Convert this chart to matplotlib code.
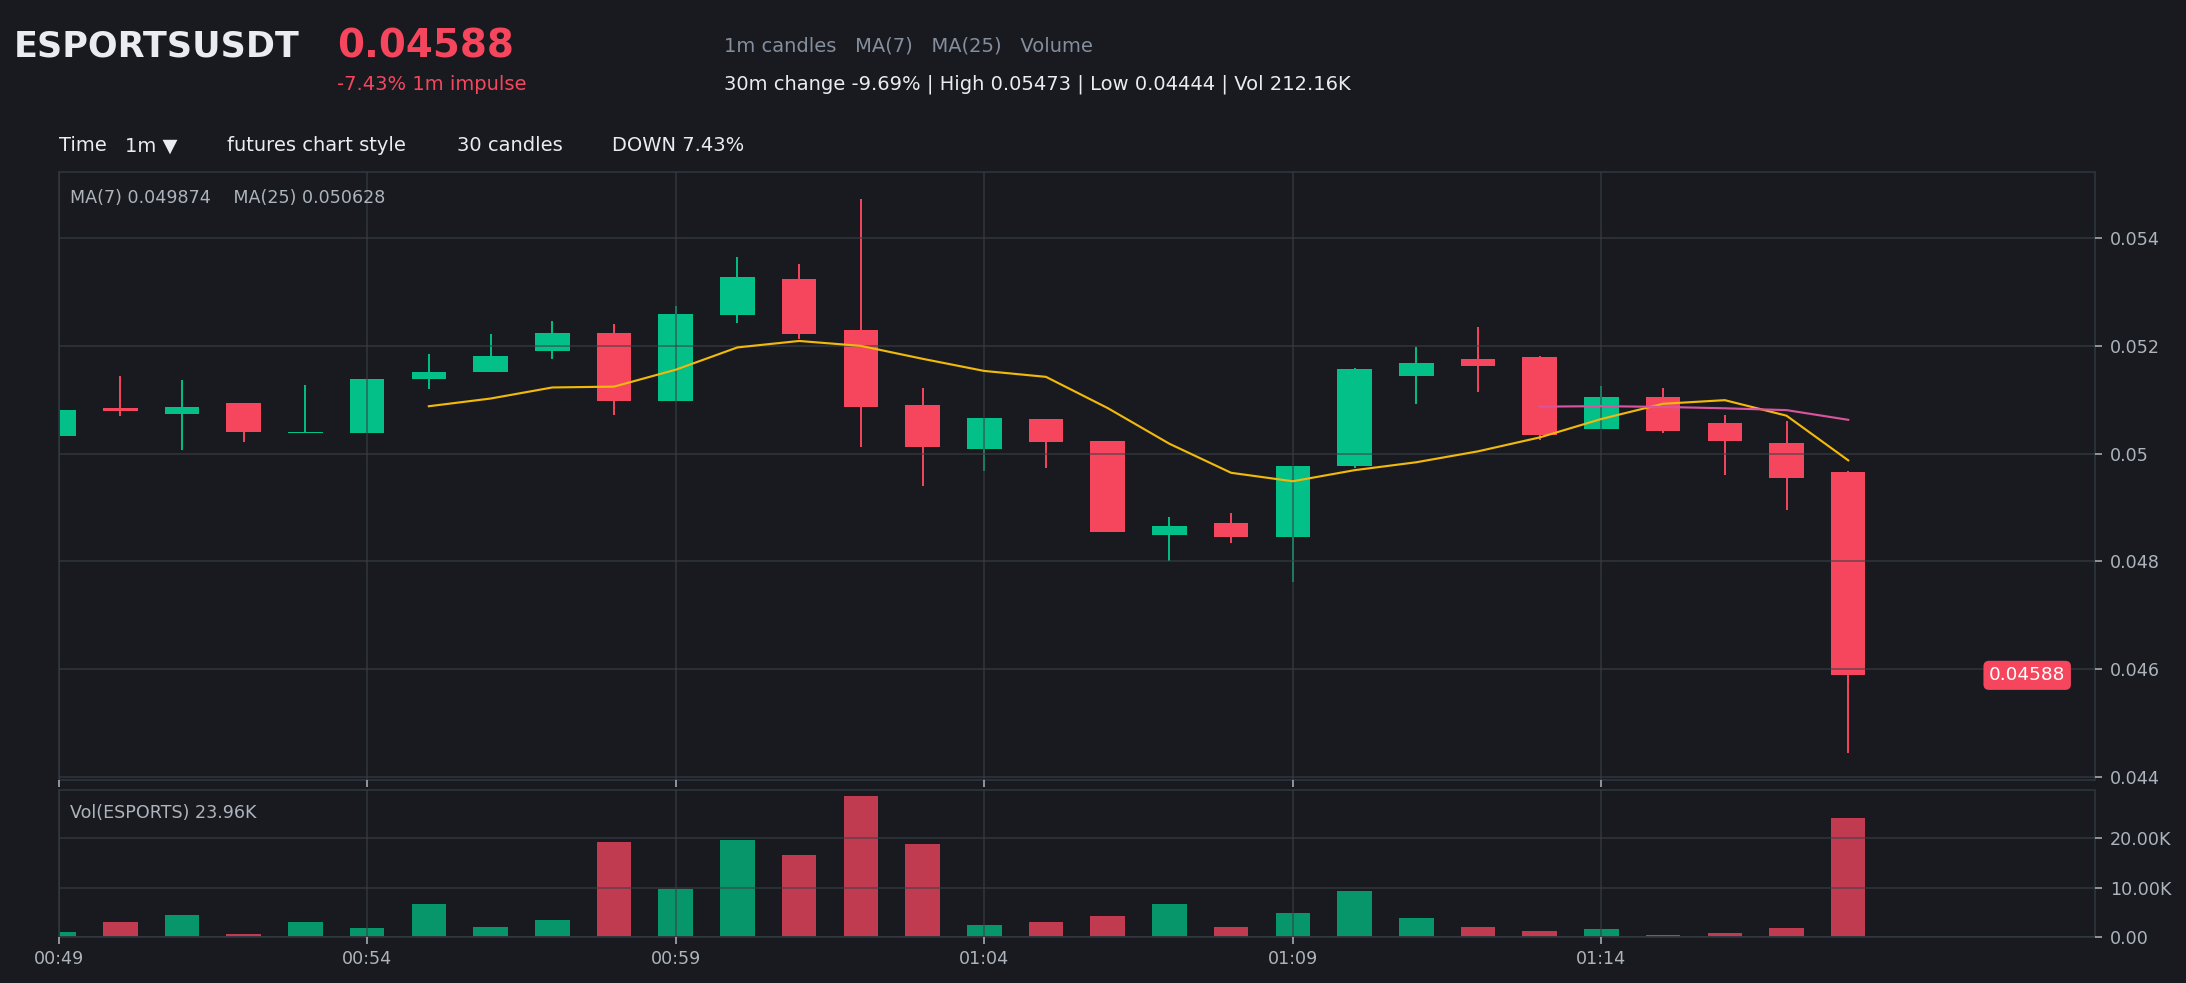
import matplotlib
matplotlib.use("Agg")
import matplotlib.pyplot as plt
import numpy as np
import pandas as pd
from matplotlib.ticker import FuncFormatter

# 1m candles, 00:49 .. 01:18
opens = [0.05033, 0.05084, 0.05074, 0.05094, 0.05038, 0.05038, 0.05139, 0.05152, 0.05191, 0.05224,
         0.05098, 0.05258, 0.05325, 0.05230, 0.05090, 0.05009, 0.05064, 0.05023, 0.04849, 0.04871,
         0.04845, 0.04977, 0.05145, 0.05176, 0.05179, 0.05045, 0.05105, 0.05057, 0.05020, 0.04966]
highs = [0.05081, 0.05144, 0.05137, 0.05094, 0.05127, 0.05139, 0.05185, 0.05223, 0.05247, 0.05241,
         0.05275, 0.05366, 0.05352, 0.05473, 0.05122, 0.05066, 0.05064, 0.05023, 0.04882, 0.04889,
         0.04977, 0.05160, 0.05198, 0.05236, 0.05181, 0.05126, 0.05122, 0.05072, 0.05060, 0.04968]
lows = [0.05033, 0.05070, 0.05006, 0.05021, 0.05038, 0.05038, 0.05120, 0.05152, 0.05176, 0.05072,
        0.05098, 0.05243, 0.05213, 0.05013, 0.04939, 0.04968, 0.04973, 0.04854, 0.04800, 0.04834,
        0.04761, 0.04973, 0.05092, 0.05115, 0.05025, 0.05045, 0.05038, 0.04961, 0.04896, 0.04444]
closes = [0.05081, 0.05080, 0.05087, 0.05040, 0.05039, 0.05139, 0.05151, 0.05181, 0.05224, 0.05098,
          0.05260, 0.05329, 0.05223, 0.05087, 0.05013, 0.05066, 0.05021, 0.04854, 0.04865, 0.04845,
          0.04977, 0.05157, 0.05169, 0.05163, 0.05035, 0.05105, 0.05043, 0.05024, 0.04955, 0.04588]
volumes = [1020, 3070, 4500, 610, 3070, 1840, 6760, 2050, 3480, 19250,
           9760, 19660, 16590, 28460, 18840, 2460, 3070, 4300, 6760, 2050,
           4920, 9220, 3890, 2050, 1230, 1640, 410, 820, 1840, 23960]
tick_labels = ["00:49", "00:54", "00:59", "01:04", "01:09", "01:14"]
price_ticks = [0.044, 0.046, 0.048, 0.050, 0.052, 0.054]
vol_ticks = [0, 10000, 20000]

BG = "#181a20"
UP = "#02c087"
DOWN = "#f6465d"
UP_VOL = "#079669"
DOWN_VOL = "#c13b50"
GRID = "#2b3139"
TXT = "#aeb4bc"
MUTED = "#848e9c"
WHITE = "#eaecef"

o = np.array(opens)
h = np.array(highs)
l = np.array(lows)
c = np.array(closes)
x = np.arange(len(c))
up = c >= o
cols = np.where(up, UP, DOWN)
vcols = np.where(up, UP_VOL, DOWN_VOL)

ma7 = pd.Series(c).rolling(7).mean()
ma25 = pd.Series(c).rolling(25).mean()

fig = plt.figure(figsize=(2186 / 140, 983 / 140), dpi=140, facecolor=BG)
ax = fig.add_axes([0.0268, 0.2065, 0.9316, 0.619], facecolor=BG)
axv = fig.add_axes([0.0268, 0.0468, 0.9316, 0.1495], facecolor=BG, sharex=ax)

# candles
ax.vlines(x, l, h, color=cols, lw=1.0, zorder=2)
body = np.maximum(np.abs(c - o), 0.00003)
ax.bar(x, body, bottom=np.minimum(o, c), width=0.56, color=cols, zorder=2)
ax.plot(x, ma7, color="#f0b90b", lw=1.1, zorder=4)
ax.plot(x, ma25, color="#d8549e", lw=1.1, zorder=4)

ax.set_xlim(0, 33)
ax.set_ylim(0.043935, 0.055243)
ax.set_yticks(price_ticks)
ax.yaxis.set_major_formatter(FuncFormatter(lambda v, p: f"{v:g}"))
ax.yaxis.tick_right()
ax.set_xticks(range(0, 30, 5))
ax.tick_params(axis="x", labelbottom=False, colors=TXT, length=3.5)
ax.tick_params(axis="y", colors=TXT, labelsize=9, length=3.5, pad=4)

ax.text(0.0056, 0.956, "MA(7) 0.049874    MA(25) 0.050628", transform=ax.transAxes,
        color=TXT, fontsize=9, va="center", ha="left")
ax.text(31.9, 0.04588, "0.04588", ha="center", va="center", color="white", fontsize=9.5,
        bbox=dict(boxstyle="round,pad=0.3", fc=DOWN, ec="none"), zorder=6)

# volume
axv.bar(x, volumes, width=0.56, color=vcols, zorder=2)
axv.set_ylim(0, 29700)
axv.set_yticks(vol_ticks)
axv.yaxis.set_major_formatter(FuncFormatter(lambda v, p: "0.00" if v == 0 else f"{v / 1000:.2f}K"))
axv.yaxis.tick_right()
axv.set_xticks(range(0, 30, 5))
axv.set_xticklabels(tick_labels)
axv.tick_params(axis="x", colors=TXT, labelsize=9, length=3.5, pad=3)
axv.tick_params(axis="y", colors=TXT, labelsize=9, length=3.5, pad=4)
axv.text(0.0056, 0.843, "Vol(ESPORTS) 23.96K", transform=axv.transAxes,
         color=TXT, fontsize=9, va="center", ha="left")

for a in (ax, axv):
    a.set_axisbelow(False)
    a.grid(True, color="#3a3f47", lw=0.8, alpha=0.7, zorder=3)
    for s in a.spines.values():
        s.set_color(GRID)
        s.set_linewidth(1.0)

# header
fig.text(0.0064, 0.953, "ESPORTSUSDT", color=WHITE, fontsize=18, fontweight="bold", va="center")
fig.text(0.154, 0.953, "0.04588", color=DOWN, fontsize=20, fontweight="bold", va="center")
fig.text(0.154, 0.9145, "-7.43% 1m impulse", color=DOWN, fontsize=10, va="center")
fig.text(0.331, 0.953, "1m candles   MA(7)   MA(25)   Volume", color=MUTED, fontsize=10, va="center")
fig.text(0.331, 0.9145, "30m change -9.69% | High 0.05473 | Low 0.04444 | Vol 212.16K",
         color=WHITE, fontsize=10, va="center")

toolbar = [(0.0268, "Time"), (0.0574, "1m ▼"), (0.1039, "futures chart style"),
           (0.2092, "30 candles"), (0.280, "DOWN 7.43%")]
for tx, label in toolbar:
    fig.text(tx, 0.8515, label, color=WHITE, fontsize=10, va="center")

fig.savefig("out.png", dpi=140, facecolor=BG)
